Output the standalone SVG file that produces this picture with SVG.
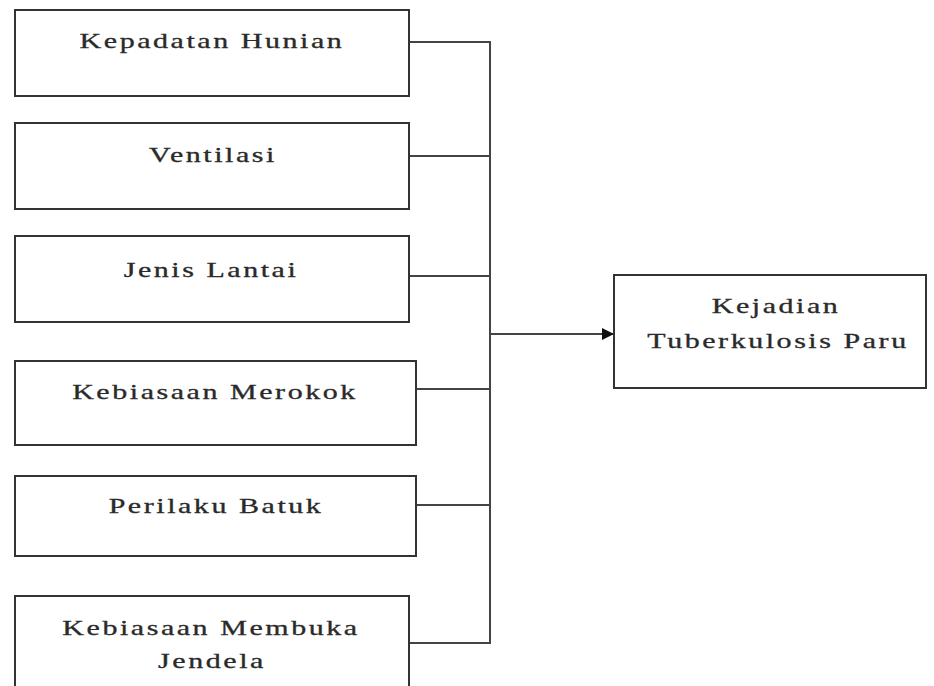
<svg xmlns="http://www.w3.org/2000/svg" width="934" height="686" viewBox="0 0 934 686">
<style>
.box{fill:#fff;stroke:#333;stroke-width:2}
.lbl{font-family:"Liberation Serif","Times New Roman",serif;font-size:20px;fill:#2a2a2a;stroke:#2a2a2a;stroke-width:0.3;text-anchor:middle;letter-spacing:1.7px}
.ln{stroke:#444;stroke-width:2;fill:none}
</style>
<defs>
<marker id="ah" markerWidth="12" markerHeight="12" refX="11" refY="6" orient="auto" markerUnits="userSpaceOnUse">
<path d="M0,0 L12,6 L0,12 Z" fill="#111"/>
</marker>
</defs>
<rect width="934" height="686" fill="#fff"/>
<g id="connectors">
<path class="ln" d="M409,42 H490 V643 H409"/>
<path class="ln" d="M409,156 H490"/>
<path class="ln" d="M409,276 H490"/>
<path class="ln" d="M416,389 H490"/>
<path class="ln" d="M416,505 H490"/>
<path class="ln" d="M490,334 H613" stroke="#111" marker-end="url(#ah)"/>
</g>
<g id="n1">
<rect class="box" x="15" y="10" width="394" height="86"/>
<text class="lbl" transform="translate(212,48) scale(1.5,1)">Kepadatan Hunian</text>
</g>
<g id="n2">
<rect class="box" x="15" y="123" width="394" height="86"/>
<text class="lbl" transform="translate(213,162) scale(1.5,1)">Ventilasi</text>
</g>
<g id="n3">
<rect class="box" x="15" y="236" width="394" height="86"/>
<text class="lbl" transform="translate(211,277) scale(1.5,1)">Jenis Lantai</text>
</g>
<g id="n4">
<rect class="box" x="15" y="361" width="401" height="84"/>
<text class="lbl" transform="translate(215,399) scale(1.5,1)">Kebiasaan Merokok</text>
</g>
<g id="n5">
<rect class="box" x="15" y="476" width="401" height="80"/>
<text class="lbl" transform="translate(216,513) scale(1.5,1)">Perilaku Batuk</text>
</g>
<g id="n6">
<rect class="box" x="15" y="596" width="394" height="100"/>
<text class="lbl" transform="translate(211,635) scale(1.5,1)">Kebiasaan Membuka</text>
<text class="lbl" transform="translate(212,668) scale(1.5,1)">Jendela</text>
</g>
<g id="target">
<rect class="box" x="614" y="275" width="312" height="113"/>
<text class="lbl" transform="translate(776,313) scale(1.5,1)">Kejadian</text>
<text class="lbl" transform="translate(778,348) scale(1.5,1)">Tuberkulosis Paru</text>
</g>
</svg>
